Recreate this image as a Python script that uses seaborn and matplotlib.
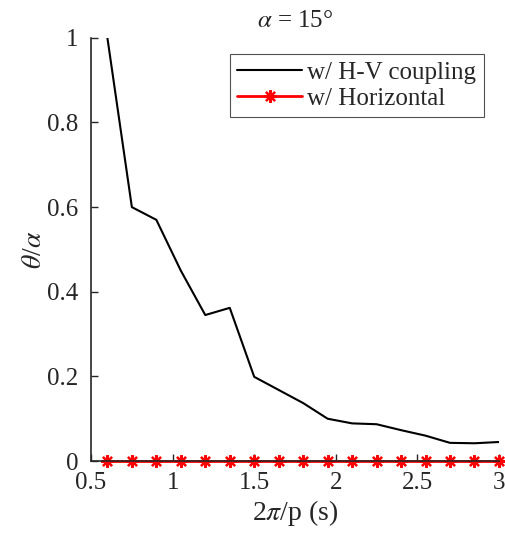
import numpy as np
import pandas as pd
import matplotlib
matplotlib.use("Agg")
import matplotlib.pyplot as plt
from matplotlib import font_manager as fm
import seaborn as sns

# Period values 2*pi/p (s)
period = [0.6, 0.75, 0.9, 1.05, 1.2, 1.35, 1.5, 1.65, 1.8, 1.95,
          2.1, 2.25, 2.4, 2.55, 2.7, 2.85, 3.0]
# Normalised pitch response theta/alpha
hv_coupling = [1.0, 0.60, 0.57, 0.45, 0.345, 0.362, 0.199, 0.168, 0.137, 0.100,
               0.089, 0.087, 0.073, 0.060, 0.043, 0.042, 0.045]
horizontal = [0.0] * len(period)

x_ticks = [0.5, 1, 1.5, 2, 2.5, 3]
y_ticks = [0, 0.2, 0.4, 0.6, 0.8, 1]

sns.set_theme(style="ticks")
plt.rcParams["mathtext.fontset"] = "stix"
plt.rcParams["xtick.direction"] = "in"
plt.rcParams["ytick.direction"] = "in"

# Times-like serif face loaded straight from its file
serif_path = fm.findfont(fm.FontProperties(family="Liberation Serif"))
fm.fontManager.addfont(serif_path)
plt.rcParams["font.family"] = fm.FontProperties(fname=serif_path).get_name()


def fp(size):
    return fm.FontProperties(fname=serif_path, size=size)


df = pd.DataFrame({"period": period, "hv": hv_coupling, "hor": horizontal})

fig = plt.figure(figsize=(5.06, 5.33), dpi=100)
ax = fig.add_axes([0.18, 0.135, 0.806, 0.794])

sns.lineplot(data=df, x="period", y="hv", ax=ax, color="black", lw=1.5,
             label="w/ H-V coupling")
sns.lineplot(data=df, x="period", y="hor", ax=ax, color="red", lw=2,
             marker=(8, 2, 0), markersize=9, markeredgewidth=1.6,
             markeredgecolor="red", label="w/ Horizontal", clip_on=False)

ax.set_xlim(0.5, 3)
ax.set_ylim(0, 1)
ax.set_xticks(x_ticks)
ax.set_xticklabels([f"{v:g}" for v in x_ticks], fontproperties=fp(18))
ax.set_yticks(y_ticks)
ax.set_yticklabels([f"{v:g}" for v in y_ticks], fontproperties=fp(18))
ax.tick_params(length=5, width=1, colors="#262626", labelcolor="#262626")
ax.tick_params(axis="x", pad=8)
ax.tick_params(axis="y", pad=9)
for s in ["top", "right"]:
    ax.spines[s].set_visible(False)
for s in ["left", "bottom"]:
    ax.spines[s].set_linewidth(1.2)
    ax.spines[s].set_color("#262626")

ax.set_xlabel(r"2$\pi$/p (s)", fontproperties=fp(20), color="#262626",
              labelpad=3)
ax.set_ylabel(r"$\theta$/$\alpha$", fontproperties=fp(20), color="#262626",
              labelpad=0)
ax.set_title(r"$\alpha$ = 15°", fontproperties=fp(18), pad=8)

leg = ax.legend(loc="upper right", bbox_to_anchor=(0.963, 0.963),
                prop=fp(18),
                frameon=True, fancybox=False, edgecolor="#262626",
                handlelength=2.6, handletextpad=0.2, borderpad=0.3,
                labelspacing=0.15, borderaxespad=0)
leg.get_frame().set_linewidth(0.8)

fig.savefig("out.png", dpi=100)
